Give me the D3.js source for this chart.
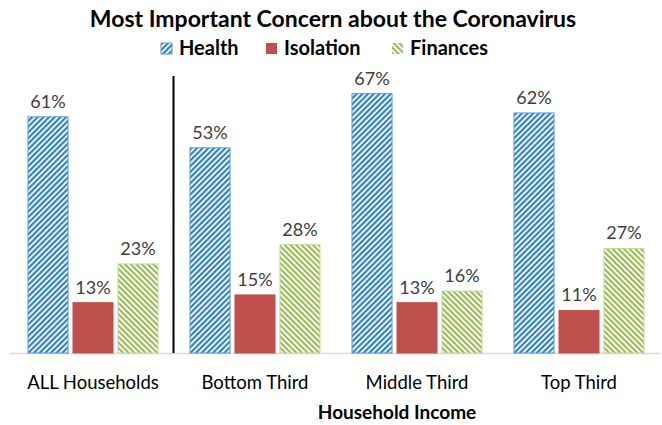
<!DOCTYPE html>
<html>
<head>
<meta charset="utf-8">
<script src="https://cdn.jsdelivr.net/npm/d3@7"></script>
<style>
  body { margin: 0; background: #fff; }
  text { font-family: Lato, "Open Sans", sans-serif; }
</style>
</head>
<body>
<div id="chart"></div>
<script>
const categories = ["ALL Households", "Bottom Third", "Middle Third", "Top Third"]
const seriesNames = ["Health", "Isolation", "Finances"]
const health = [61, 53, 67, 62]
const isolation = [13, 15, 13, 11]
const finances = [23, 28, 16, 27]

const width = 662
const height = 425
const baseline = 353

const svg = d3.select("#chart")
  .append("svg")
    .attr("width", width)
    .attr("height", height)

const defs = svg.append("defs")

// wide upward diagonal for health
const pHealth = defs.append("pattern")
  .attr("id", "pat-health")
  .attr("patternUnits", "userSpaceOnUse")
  .attr("width", 4)
  .attr("height", 4)
  .attr("patternTransform", "rotate(45)")
pHealth.append("rect").attr("width", 4).attr("height", 4).attr("fill", "#ffffff")
pHealth.append("rect").attr("width", 2.2).attr("height", 4).attr("fill", "#2e80d2")

// wide downward diagonal for finances
const pFin = defs.append("pattern")
  .attr("id", "pat-fin")
  .attr("patternUnits", "userSpaceOnUse")
  .attr("width", 4)
  .attr("height", 4)
  .attr("patternTransform", "rotate(-45)")
pFin.append("rect").attr("width", 4).attr("height", 4).attr("fill", "#ffffff")
pFin.append("rect").attr("width", 2.2).attr("height", 4).attr("fill", "#9bbb59")

const fills = ["url(#pat-health)", "#c0504d", "url(#pat-fin)"]
const strokes = ["#5b9bd5", "#c0504d", "#c4d99c"]

const x0 = d3.scaleBand()
  .domain(categories)
  .range([12, 660])
  .paddingInner(0)
  .paddingOuter(0)

const x1 = d3.scaleBand()
  .domain(seriesNames)
  .range([16, x0.bandwidth() - 16])
  .paddingInner(0.11)

const y = d3.scaleLinear()
  .domain([0, 70])
  .range([baseline, 82])

const rows = categories.map((c, i) => ({
  category: c,
  values: [
    { key: "Health", value: health[i] },
    { key: "Isolation", value: isolation[i] },
    { key: "Finances", value: finances[i] }
  ]
}))

// title
svg.append("text")
  .attr("x", 333)
  .attr("y", 27)
  .attr("text-anchor", "middle")
  .attr("font-size", 23)
  .attr("font-weight", "bold")
  .attr("fill", "#000")
  .text("Most Important Concern about the Coronavirus")

// legend
const legendX = [161, 266, 392]
const legend = svg.append("g")
seriesNames.forEach((name, i) => {
  const g = legend.append("g").attr("transform", `translate(${legendX[i]},43)`)
  g.append("rect")
    .attr("width", 11).attr("height", 11)
    .attr("fill", fills[i])
    .attr("stroke", i === 0 ? strokes[0] : "none")
  g.append("text")
    .attr("x", 18)
    .attr("y", 12)
    .attr("font-size", 20)
    .attr("font-weight", "bold")
    .attr("fill", "#000")
    .text(name)
})

// baseline axis
svg.append("line")
  .attr("x1", 10).attr("x2", 660)
  .attr("y1", baseline + 0.5).attr("y2", baseline + 0.5)
  .attr("stroke", "#d9d9d9")
  .attr("stroke-width", 1.5)

// separator after ALL households
svg.append("line")
  .attr("x1", x0("Bottom Third") - 0.5).attr("x2", x0("Bottom Third") - 0.5)
  .attr("y1", 76).attr("y2", baseline)
  .attr("stroke", "#000")
  .attr("stroke-width", 2)

const groups = svg.selectAll(".group")
  .data(rows)
  .join("g")
    .attr("class", "group")
    .attr("transform", d => `translate(${x0(d.category)},0)`)

groups.selectAll("rect")
  .data(d => d.values)
  .join("rect")
    .attr("x", d => x1(d.key))
    .attr("y", d => y(d.value))
    .attr("width", x1.bandwidth())
    .attr("height", d => baseline - y(d.value))
    .attr("fill", (d, i) => fills[i])
    .attr("stroke", (d, i) => strokes[i])
    .attr("stroke-width", 1)

groups.selectAll(".val")
  .data(d => d.values)
  .join("text")
    .attr("class", "val")
    .attr("x", d => x1(d.key) + x1.bandwidth() / 2)
    .attr("y", d => y(d.value) - 9)
    .attr("text-anchor", "middle")
    .attr("font-size", 18)
    .attr("fill", "#404040")
    .text(d => d.value + "%")

// category labels
svg.append("g")
  .selectAll("text")
  .data(categories)
  .join("text")
    .attr("x", d => x0(d) + x0.bandwidth() / 2)
    .attr("y", 389)
    .attr("text-anchor", "middle")
    .attr("font-size", 18.5)
    .attr("fill", "#000")
    .text(d => d)

svg.append("text")
  .attr("x", 397)
  .attr("y", 419)
  .attr("text-anchor", "middle")
  .attr("font-size", 19)
  .attr("font-weight", "bold")
  .attr("fill", "#000")
  .text("Household Income")
</script>
</body>
</html>
